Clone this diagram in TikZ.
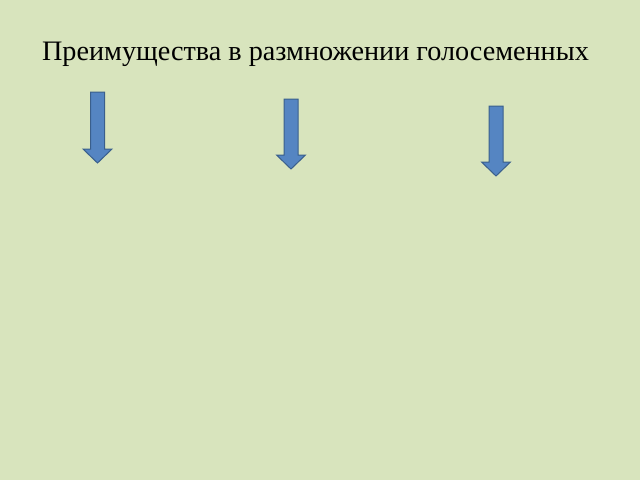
\documentclass[tikz,border=0pt]{standalone}
\usepackage{fontspec}
\setmainfont{Liberation Serif}
\definecolor{slidebg}{HTML}{D8E4BD}
\definecolor{arrowfill}{HTML}{5585C2}
\definecolor{arrowline}{HTML}{3A5F8C}
\begin{document}
\begin{tikzpicture}[x=1pt, y=-1pt]
        % Style des formes
        \tikzstyle{downarrow} = [fill=arrowfill, draw=arrowline, line width=1pt, line join=miter]

        % Fond de la diapositive
        \fill[slidebg] (0,0) rectangle (640,480);
        \useasboundingbox (0,0) rectangle (640,480);

        % Titre
        \node[anchor=base, inner sep=0pt, font=\fontsize{28.2}{34}\selectfont] (title) at (315.5,60) {Преимущества в размножении голосеменных};

        % Fleches vers le bas (centre x, haut, pointe)
        \foreach \cx/\top/\tip in {97.5/92/163, 291/99/169, 496/106/176} {
            \draw[downarrow] (\cx-7,\top) -- (\cx+7,\top) -- (\cx+7,\tip-14) -- (\cx+14.5,\tip-14)
                -- (\cx,\tip) -- (\cx-14.5,\tip-14) -- (\cx-7,\tip-14) -- cycle;
        }

    \end{tikzpicture}
\end{document}
